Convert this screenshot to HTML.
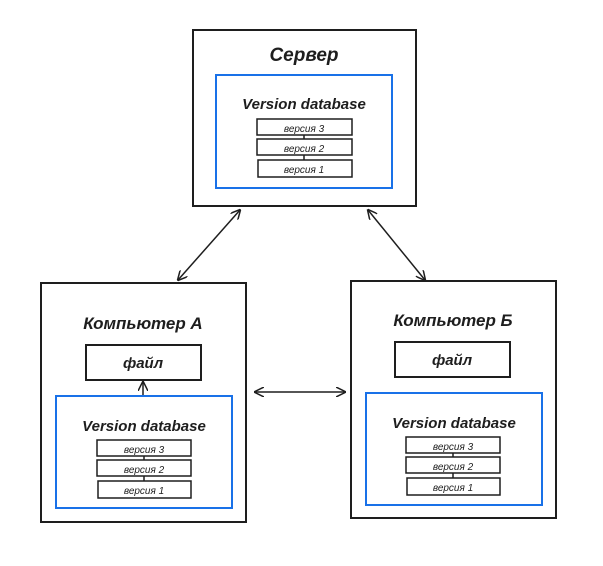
<!DOCTYPE html>
<html><head><meta charset="utf-8"><style>
body{margin:0;width:603px;height:561px;background:#fff;overflow:hidden}
</style></head><body>
<svg width="603" height="561" xmlns="http://www.w3.org/2000/svg" font-family="Liberation Sans, sans-serif" font-style="italic">
<defs><marker id="a" markerWidth="10" markerHeight="10" refX="9" refY="5" orient="auto-start-reverse" markerUnits="userSpaceOnUse"><path d="M0,0 L10,5 L0,10" fill="none" stroke="#1e1e1e" stroke-width="1.5"/></marker></defs>
<g fill="none" stroke="#1e1e1e" stroke-width="2">
<rect x="193" y="30" width="223" height="176"/>
<rect x="41" y="283" width="205" height="239"/>
<rect x="351" y="281" width="205" height="237"/>
<rect x="86" y="345" width="115" height="35"/>
<rect x="395" y="342" width="115" height="35"/>
</g>
<g fill="none" stroke="#1971e8" stroke-width="2">
<rect x="216" y="75" width="176" height="113"/>
<rect x="56" y="396" width="176" height="112"/>
<rect x="366" y="393" width="176" height="112"/>
</g>
<g fill="none" stroke="#1e1e1e" stroke-width="1.5">
<rect x="257" y="119" width="95" height="16"/><rect x="257" y="139" width="95" height="16"/><rect x="258" y="160" width="94" height="17"/>
<line x1="304" y1="135" x2="304" y2="139"/><line x1="304" y1="155" x2="304" y2="160"/>
<rect x="97" y="440" width="94" height="16"/><rect x="97" y="460" width="94" height="16"/><rect x="98" y="481" width="93" height="17"/>
<line x1="144" y1="456" x2="144" y2="460"/><line x1="144" y1="476" x2="144" y2="481"/>
<rect x="406" y="437" width="94" height="16"/><rect x="406" y="457" width="94" height="16"/><rect x="407" y="478" width="93" height="17"/>
<line x1="453" y1="453" x2="453" y2="457"/><line x1="453" y1="473" x2="453" y2="478"/>
<line x1="143" y1="395" x2="143" y2="382" marker-end="url(#a)"/>
<line x1="178" y1="280" x2="240" y2="210" marker-start="url(#a)" marker-end="url(#a)"/>
<line x1="368" y1="210" x2="425" y2="280" marker-start="url(#a)" marker-end="url(#a)"/>
<line x1="255" y1="392" x2="345" y2="392" marker-start="url(#a)" marker-end="url(#a)"/>
</g>
<g fill="#1e1e1e" text-anchor="middle">
<text x="304" y="61" font-size="19" font-weight="bold">Сервер</text>
<text x="304" y="109" font-size="15" font-weight="bold">Version database</text>
<text x="304" y="132" font-size="10">версия 3</text><text x="304" y="152" font-size="10">версия 2</text><text x="304" y="173" font-size="10">версия 1</text>
<text x="143" y="329" font-size="17" font-weight="bold">Компьютер А</text>
<text x="143" y="368" font-size="15" font-weight="bold">файл</text>
<text x="144" y="431" font-size="15" font-weight="bold">Version database</text>
<text x="144" y="453" font-size="10">версия 3</text><text x="144" y="473" font-size="10">версия 2</text><text x="144" y="494" font-size="10">версия 1</text>
<text x="453" y="326" font-size="17" font-weight="bold">Компьютер Б</text>
<text x="452" y="365" font-size="15" font-weight="bold">файл</text>
<text x="454" y="428" font-size="15" font-weight="bold">Version database</text>
<text x="453" y="450" font-size="10">версия 3</text><text x="453" y="470" font-size="10">версия 2</text><text x="453" y="491" font-size="10">версия 1</text>
</g>
</svg>
</body></html>
